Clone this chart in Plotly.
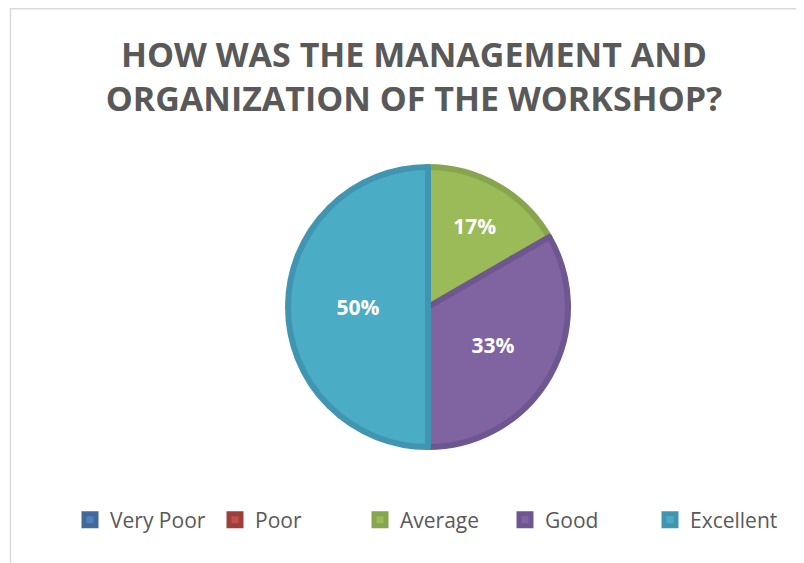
import plotly.graph_objects as go

# survey answers (percentages are 1/6, 2/6, 3/6)
categories = ["Very Poor", "Poor", "Average", "Good", "Excellent"]
responses = [0, 0, 1, 2, 3]

fill_colors = ["#4F81BD", "#C0504D", "#9BBB59", "#8064A2", "#4BACC6"]
edge_colors = ["#42699A", "#9E3F3D", "#87A54D", "#6E5790", "#4096B1"]

# the page body has an 8px margin, so the figure is drawn 8px smaller
W, H = 796, 555
cx, cy, r = 420, 299, 140

fig = go.Figure()
fig.add_trace(go.Pie(
    labels=categories,
    values=responses,
    sort=False,
    direction="clockwise",
    rotation=0,
    marker=dict(colors=fill_colors, line=dict(color=edge_colors, width=6)),
    texttemplate="%{percent:.0%}",
    textposition="inside",
    insidetextorientation="horizontal",
    textfont=dict(family="Open Sans", size=21, color="white", weight="bold"),
    domain=dict(x=[(cx - r) / W, (cx + r) / W],
                y=[(H - cy - r) / H, (H - cy + r) / H]),
    hoverinfo="label+percent",
))

# light grey chart-area frame (its right and bottom sides lie off the picture)
fig.add_shape(type="rect", xref="paper", yref="paper",
              x0=2.5 / W, x1=1.05, y0=-0.05, y1=(H - 0.75) / H,
              line=dict(color="#D9D9D9", width=1.5), fillcolor="rgba(0,0,0,0)")

fig.update_layout(
    width=W, height=H,
    margin=dict(l=0, r=0, t=0, b=0),
    paper_bgcolor="white",
    font=dict(family="Open Sans", color="#595959"),
    title=dict(text="HOW WAS THE MANAGEMENT AND<br>ORGANIZATION OF THE WORKSHOP?",
               x=406 / W, xanchor="center", y=1 - 59 / H, yanchor="middle",
               font=dict(family="Open Sans", size=34, color="#595959", weight="bold")),
    legend=dict(orientation="h", x=62 / W, xanchor="left",
                y=1 - 512 / H, yanchor="middle",
                entrywidth=100, entrywidthmode="pixels",
                font=dict(family="Open Sans", size=21, color="#595959")),
    showlegend=True,
)

fig.write_html("out.html")
